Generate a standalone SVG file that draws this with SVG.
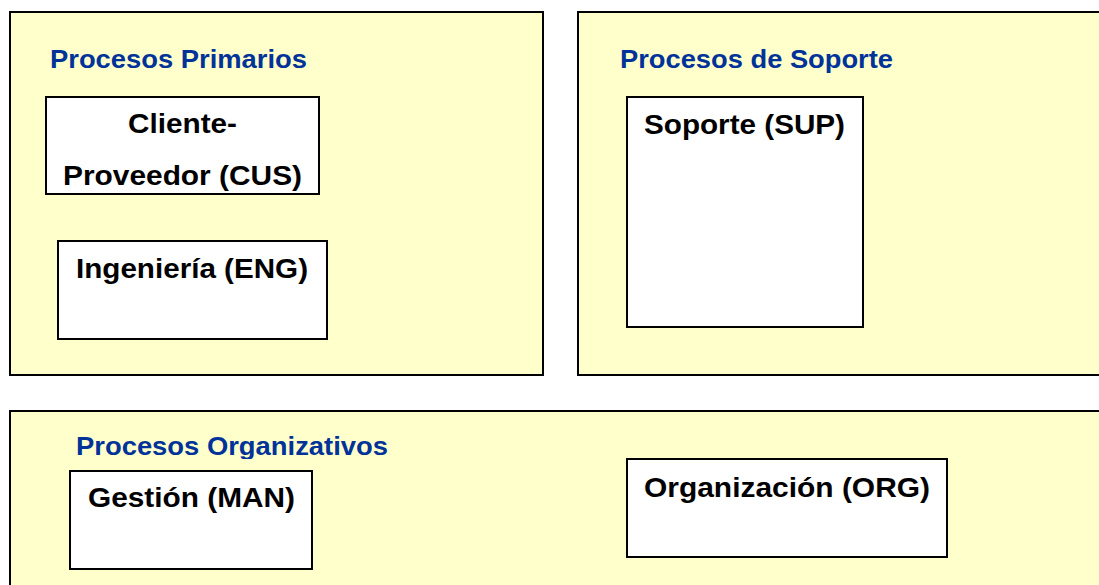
<svg xmlns="http://www.w3.org/2000/svg" width="1099" height="585" viewBox="0 0 1099 585">
<style>
.panel{fill:#FFFFCC;stroke:#000;stroke-width:2}
.box{fill:#FFFFFF;stroke:#000;stroke-width:2}
.title{font-family:"Liberation Sans",Arial,sans-serif;font-weight:bold;font-size:25px;fill:#003399}
.label{font-family:"Liberation Sans",Arial,sans-serif;font-weight:bold;font-size:28px;fill:#000}
</style>
<defs>
<clipPath id="clipOrg"><rect x="0" y="411" width="1099" height="48"/></clipPath>
</defs>
<rect width="1099" height="585" fill="#FFFFFF"/>
<g id="panel-primarios">
<rect class="panel" x="10" y="12" width="533" height="363"/>
<text class="title" x="50" y="68" textLength="257" lengthAdjust="spacingAndGlyphs">Procesos Primarios</text>
</g>
<g id="panel-soporte">
<rect class="panel" x="578" y="12" width="530" height="363"/>
<text class="title" x="620" y="68" textLength="273" lengthAdjust="spacingAndGlyphs">Procesos de Soporte</text>
</g>
<g id="panel-organizativos">
<rect class="panel" x="10" y="411" width="1100" height="200"/>
<text class="title" x="76" y="455" textLength="312" lengthAdjust="spacingAndGlyphs" clip-path="url(#clipOrg)">Procesos Organizativos</text>
</g>
<g id="node-cus">
<rect class="box" x="46" y="97" width="273" height="97"/>
<text class="label" x="128" y="133" textLength="109" lengthAdjust="spacingAndGlyphs">Cliente-</text>
<text class="label" x="63" y="185" textLength="239" lengthAdjust="spacingAndGlyphs">Proveedor (CUS)</text>
</g>
<g id="node-eng">
<rect class="box" x="58" y="241" width="269" height="98"/>
<text class="label" x="76" y="278" textLength="232" lengthAdjust="spacingAndGlyphs">Ingeniería (ENG)</text>
</g>
<g id="node-sup">
<rect class="box" x="627" y="97" width="236" height="230"/>
<text class="label" x="644" y="134" textLength="201" lengthAdjust="spacingAndGlyphs">Soporte (SUP)</text>
</g>
<g id="node-man">
<rect class="box" x="70" y="471" width="242" height="98"/>
<text class="label" x="88" y="507" textLength="207" lengthAdjust="spacingAndGlyphs">Gestión (MAN)</text>
</g>
<g id="node-org">
<rect class="box" x="627" y="459" width="320" height="98"/>
<text class="label" x="644" y="497" textLength="286" lengthAdjust="spacingAndGlyphs">Organización (ORG)</text>
</g>
<g id="connectors"/>
</svg>
